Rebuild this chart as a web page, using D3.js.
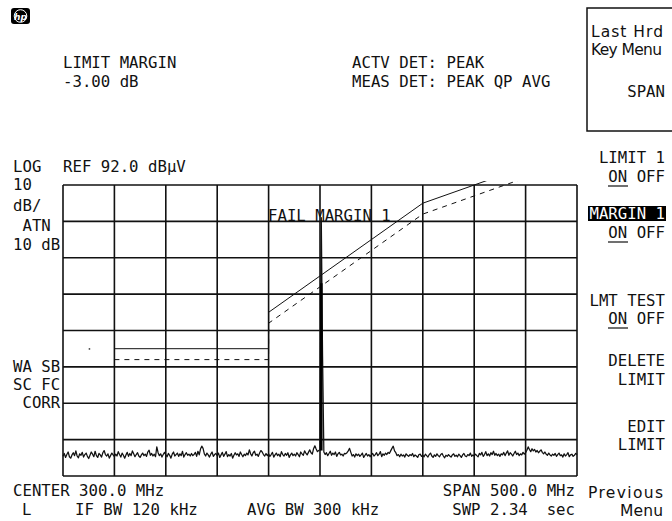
<!DOCTYPE html>
<html>
<head>
<meta charset="utf-8">
<script src="https://cdn.jsdelivr.net/npm/d3@7"></script>
<style>
body { margin: 0; background: #fff; }
text { font-family: "DejaVu Sans Mono", monospace; font-size: 15.7px; fill: #111; white-space: pre; }
text.prop { font-family: "DejaVu Sans", sans-serif; font-size: 15.5px; }
</style>
</head>
<body>
<div id="chart"></div>
<script>
// analyzer settings: center 300 MHz, span 500 MHz, ref 92 dBuV, 10 dB/div
const freqDomain = [50, 550];
const refLevel = 92;
const dbPerDiv = 10;
const numDiv = 8;

// limit line 1 (MHz / dBuV) and the -3 dB margin
const limitFreq = [100, 250, 250, 400, 520];
const limitLevel = [47, 47, 57, 87, 99];
const marginDb = -3;
const displayTop = 93.1;
const strayDot = [75, 47];

// detected signal bar (QP / AVG reading)
const signalFreq = 301.25;
const signalBar = [19, 65];

// measured trace, 401 points (1.25 MHz apart), signal near 301 MHz
const traceStep = 1.25;
const traceLevel = [
    17.4, 18.2, 17.1, 17.9, 18.6, 17.3, 16.9, 17.8, 18.4, 17.6, 18.9, 17.5, 17.0, 18.1, 17.7, 18.5, 17.2, 17.9, 18.3, 17.4,
    16.8, 17.7, 18.6, 18.0, 17.3, 18.8, 17.6, 17.1, 18.2, 17.8, 17.2, 18.4, 19.0, 17.9, 17.5, 18.1, 16.9, 17.6, 18.3, 17.8,
    17.3, 18.0, 17.5, 18.7, 17.9, 17.2, 18.3, 17.7, 16.9, 17.8, 18.5, 17.4, 18.2, 17.6, 18.9, 18.1, 17.3, 17.9, 18.4, 17.5,
    17.1, 17.8, 18.3, 17.6, 18.0, 17.4, 18.6, 19.1, 17.7, 18.2, 17.5, 18.0, 17.3, 20.0, 18.4, 17.6, 18.1, 17.2, 17.9, 18.5,
    17.8, 17.3, 18.2, 17.7, 16.9, 18.0, 18.6, 17.5, 17.9, 18.3, 17.4, 18.1, 17.6, 18.8, 17.2, 17.9, 18.4, 17.7, 18.0, 17.5,
    18.2, 17.6, 17.9, 18.5, 17.4, 18.8, 17.8, 19.4, 20.2, 19.6, 18.1, 17.5, 18.3, 17.8, 17.2, 18.0, 18.6, 17.4, 17.9, 18.2,
    17.6, 18.3, 17.1, 17.8, 18.5, 17.4, 18.0, 18.7, 17.3, 17.9, 17.5, 18.2, 16.9, 17.7, 18.4, 17.8, 18.1, 17.4, 18.6, 17.9,
    17.3, 18.0, 17.6, 18.3, 17.8, 19.2, 18.1, 17.5, 18.4, 18.8, 17.7, 18.0, 17.4, 18.3, 19.0, 18.6, 17.9, 17.5, 18.2, 17.6,
    18.1, 17.4, 17.9, 18.5, 17.2, 17.8, 18.3, 17.6, 18.0, 17.3, 18.7, 17.9, 17.5, 18.2, 17.7, 18.4, 17.1, 17.8, 18.3, 17.6,
    18.0, 17.5, 18.4, 17.9, 17.3, 18.6, 18.1, 17.7, 18.9, 18.3, 17.8, 18.5, 19.2, 18.4, 18.0, 19.5, 20.3, 19.4, 18.7, 19.0,
    19.2, 83.0, 45.0, 18.6, 17.9, 18.4, 17.6, 18.2, 18.8, 17.7, 18.3, 17.9, 18.6, 17.4, 18.1, 18.5, 17.8, 18.0, 17.5, 18.2,
    18.1, 18.4, 18.9, 19.6, 18.5, 17.5, 17.9, 17.2, 18.1, 17.6, 18.0, 17.4, 17.8, 18.3, 17.1, 17.7, 18.2, 17.5, 17.9, 17.3,
    17.8, 18.2, 17.5, 17.9, 18.4, 17.6, 18.0, 18.7, 17.3, 18.1, 17.7, 18.3, 17.9, 18.5, 18.2, 18.9, 19.6, 20.2, 18.9, 18.4,
    17.6, 17.9, 17.3, 18.0, 17.5, 17.8, 17.2, 18.1, 17.7, 17.4, 17.9, 17.6, 18.2, 17.3, 17.8, 17.5, 17.1, 17.9, 18.0, 17.4,
    17.7, 17.3, 18.0, 17.6, 17.2, 17.9, 18.3, 17.5, 17.1, 17.8, 17.4, 18.1, 17.6, 17.3, 17.9, 18.2, 17.5, 17.0, 17.7, 17.4,
    17.9, 17.5, 17.2, 17.8, 18.1, 17.4, 17.7, 17.3, 18.0, 17.6, 17.1, 17.8, 18.2, 17.5, 17.3, 17.9, 17.6, 18.3, 17.4, 17.8,
    17.5, 18.0, 17.6, 17.3, 18.2, 17.8, 18.5, 17.4, 17.9, 18.7, 17.6, 18.1, 17.5, 18.4, 17.9, 18.8, 17.7, 18.2, 17.6, 18.0,
    17.4, 18.1, 17.8, 18.5, 17.6, 18.3, 18.9, 17.7, 18.4, 18.0, 17.5, 18.2, 18.8, 17.9, 18.3, 17.6, 18.1, 17.8, 18.5, 18.0,
    18.4, 19.1, 20.0, 19.3, 18.7, 19.5, 18.9, 19.3, 18.6, 19.0, 18.4, 18.8, 19.2, 18.5, 18.1, 18.6, 18.0, 17.7, 18.3, 17.8,
    17.5, 18.0, 17.7, 18.2, 17.4, 17.9, 18.3, 17.6, 17.8, 17.2, 18.1, 17.5, 17.9, 18.4, 17.3, 17.8, 18.0, 17.4, 17.7, 18.2,
    17.9
];

const width = 672, height = 521;
const plot = { left: 63, right: 577, top: 185, bottom: 476 };

const svg = d3.select("#chart")
    .append("svg")
    .attr("width", width)
    .attr("height", height);

const x = d3.scaleLinear().domain(freqDomain).range([plot.left, plot.right]);
const y = d3.scaleLinear()
    .domain([refLevel - dbPerDiv * numDiv, refLevel])
    .range([plot.bottom, plot.top]);

// graticule
const xDivs = d3.range(freqDomain[0], freqDomain[1] + 1, (freqDomain[1] - freqDomain[0]) / 10);
const yDivs = d3.range(refLevel - dbPerDiv * numDiv, refLevel + 1, dbPerDiv);

svg.append("g").selectAll("line").data(xDivs).enter().append("line")
    .attr("x1", d => x(d)).attr("x2", d => x(d))
    .attr("y1", plot.top).attr("y2", plot.bottom)
    .attr("stroke", "#111").attr("stroke-width", 1.6);

svg.append("g").selectAll("line").data(yDivs).enter().append("line")
    .attr("x1", plot.left).attr("x2", plot.right)
    .attr("y1", d => y(d)).attr("y2", d => y(d))
    .attr("stroke", "#111").attr("stroke-width", 1.6);

// limit lines are clipped at the top of the display
svg.append("clipPath").attr("id", "clip")
    .append("rect")
    .attr("x", x(freqDomain[0]))
    .attr("y", y(displayTop))
    .attr("width", x(freqDomain[1]) - x(freqDomain[0]))
    .attr("height", y(refLevel - dbPerDiv * numDiv) - y(displayTop));

const line = d3.line().x(d => x(d[0])).y(d => y(d[1]));

const limitPts = limitFreq.map((f, i) => [f, limitLevel[i]]);
const marginPts = limitFreq.map((f, i) => [f, limitLevel[i] + marginDb]);

const lim = svg.append("g").attr("clip-path", "url(#clip)");
lim.append("path")
    .attr("d", line(limitPts))
    .attr("fill", "none").attr("stroke", "#111").attr("stroke-width", 1);
lim.append("path")
    .attr("d", line(marginPts))
    .attr("fill", "none").attr("stroke", "#111").attr("stroke-width", 1)
    .attr("stroke-dasharray", "5,5");

svg.append("rect")
    .attr("x", x(strayDot[0])).attr("y", y(strayDot[1]) - 0.5)
    .attr("width", 1.5).attr("height", 1.5).attr("fill", "#333");

// trace
const trace = traceLevel.map((v, i) => [freqDomain[0] + i * traceStep, v]);

svg.append("path")
    .attr("d", line(trace))
    .attr("fill", "none").attr("stroke", "#111").attr("stroke-width", 1.25)
    .attr("stroke-linejoin", "round");

svg.append("line")
    .attr("x1", x(signalFreq)).attr("x2", x(signalFreq))
    .attr("y1", y(signalBar[0])).attr("y2", y(signalBar[1]))
    .attr("stroke", "#000").attr("stroke-width", 2.6);

// annotation text
const labels = [
    ["LIMIT MARGIN", 63, 68, "start"],
    ["-3.00 dB", 63, 87, "start"],
    ["ACTV DET: PEAK", 352, 68, "start"],
    ["MEAS DET: PEAK QP AVG", 352, 87, "start"],
    ["LOG", 13, 172, "start"],
    ["REF 92.0 dBµV", 63, 172, "start"],
    ["10", 13, 190, "start"],
    ["dB/", 13, 211, "start"],
    [" ATN", 13, 231, "start"],
    ["10 dB", 13, 250, "start"],
    ["WA SB", 13, 372, "start"],
    ["SC FC", 13, 390, "start"],
    [" CORR", 13, 408, "start"],
    ["FAIL MARGIN 1", 268, 221, "start"],
    ["CENTER 300.0 MHz", 13, 496, "start"],
    ["L", 22, 515, "start"],
    ["IF BW 120 kHz", 75, 515, "start"],
    ["AVG BW 300 kHz", 247, 515, "start"],
    ["SPAN 500.0 MHz", 575, 496, "end"],
    ["SWP 2.34  sec", 575, 515, "end"],
    ["SPAN", 665, 97, "end"],
    ["LIMIT 1", 665, 163, "end"],
    ["ON OFF", 665, 182, "end"],
    ["ON OFF", 665, 238, "end"],
    ["LMT TEST", 665, 306, "end"],
    ["ON OFF", 665, 324, "end"],
    ["DELETE", 665, 366, "end"],
    ["LIMIT", 665, 385, "end"],
    ["EDIT", 665, 432, "end"],
    ["LIMIT", 665, 450, "end"]
];

svg.append("g").selectAll("text").data(labels).enter().append("text")
    .attr("x", d => d[1]).attr("y", d => d[2])
    .attr("text-anchor", d => d[3])
    .text(d => d[0]);

const propLabels = [
    ["Last Hrd", 591, 37, 72],
    ["Key Menu", 591, 55, 71],
    ["Previous", 588, 498, 75],
    ["Menu", 620, 516, 43]
];
svg.append("g").selectAll("text").data(propLabels).enter().append("text")
    .attr("class", "prop")
    .attr("x", d => d[1]).attr("y", d => d[2])
    .attr("textLength", d => d[3])
    .attr("lengthAdjust", "spacing")
    .text(d => d[0]);

// underline under the active "ON"
[182, 238, 324].forEach(b => {
    svg.append("line")
        .attr("x1", 608).attr("x2", 628)
        .attr("y1", b + 4).attr("y2", b + 4)
        .attr("stroke", "#111").attr("stroke-width", 1.2);
});

// highlighted softkey
svg.append("rect")
    .attr("x", 588).attr("y", 206).attr("width", 78).attr("height", 15)
    .attr("fill", "#000");
svg.append("text")
    .attr("x", 665).attr("y", 219).attr("text-anchor", "end")
    .style("fill", "#fff")
    .text("MARGIN 1");

// softkey title box
svg.append("rect")
    .attr("x", 587).attr("y", 8).attr("width", 100).attr("height", 123)
    .attr("fill", "none").attr("stroke", "#111").attr("stroke-width", 1.5);

// hp logo
const logo = svg.append("g").attr("transform", "translate(11,8)");
logo.append("rect").attr("width", 19).attr("height", 16).attr("rx", 3).attr("fill", "#000");
logo.append("circle").attr("cx", 9.5).attr("cy", 8).attr("r", 6.3)
    .attr("fill", "none").attr("stroke", "#fff").attr("stroke-width", 1);
logo.append("text").attr("x", 9.5).attr("y", 11.5).attr("text-anchor", "middle")
    .style("font-family", "DejaVu Sans").style("font-size", "9px")
    .style("font-style", "italic").style("font-weight", "bold").style("fill", "#fff")
    .text("hp");
</script>
</body>
</html>
